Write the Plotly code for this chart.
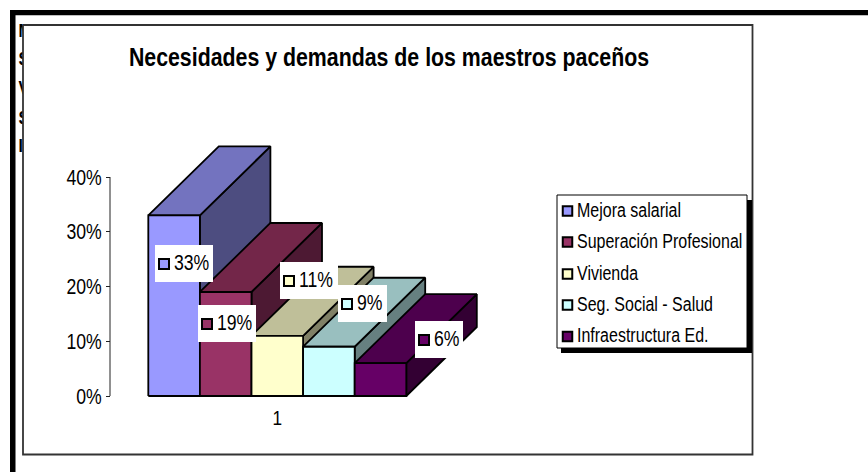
import plotly.graph_objects as go

# ---- data ----
TITLE = "Necesidades y demandas de los maestros paceños"
categories = ["Mejora salarial", "Superación Profesional", "Vivienda", "Seg. Social - Salud", "Infraestructura Ed."]
values = [0.33, 0.19, 0.11, 0.09, 0.06]
value_labels = ["33%", "19%", "11%", "9%", "6%"]
y_ticks = [0, 0.1, 0.2, 0.3, 0.4]
y_tick_labels = ["0%", "10%", "20%", "30%", "40%"]
x_tick_labels = ["1"]
clipped_letters = ["M", "S", "V", "S", "I"]

# ---- styles ----
front_colors = ["#9999FF", "#993366", "#FFFFCC", "#CCFFFF", "#660066"]
top_colors = ["#7373BF", "#732649", "#BFBF99", "#99BFBF", "#4D004D"]
side_colors = ["#4D4D80", "#4D1933", "#808066", "#668080", "#330033"]
FONT = "Liberation Sans, Arial, sans-serif"

# ---- layout geometry (x axis runs in page pixels) ----
W, H = 868, 472
Y0_PX, Y40_PX = 396, 177
PX_PER_UNIT = (Y0_PX - Y40_PX) / 0.4


def py(p):
    """Page pixel row -> value-axis coordinate."""
    return (Y0_PX - p) / PX_PER_UNIT


BAR_X0, BAR_W = 148.3, 51.6
DEPTH_X, DEPTH_Y = 70.5, 69 / PX_PER_UNIT
AXIS_X = 110


def poly(xs, ys, fill, line="black", lw=1.8):
    return go.Scatter(x=xs + xs[:1], y=ys + ys[:1], mode="lines", fill="toself",
                      fillcolor=fill, line=dict(color=line, width=lw),
                      hoverinfo="skip", showlegend=False)


def rect_px(x0, y0, x1, y1, fill, line="black", lw=0):
    return poly([x0, x1, x1, x0], [py(y0), py(y0), py(y1), py(y1)], fill, line, lw)


traces = []

# letters of the text hidden behind the chart box
traces.append(go.Scatter(x=[18.5] * 5, y=[py(p) for p in (32, 60, 89, 119, 147)], mode="text",
                         text=["<b>" + c + "</b>" for c in clipped_letters], textposition="middle right",
                         textfont=dict(family=FONT, size=19, color="black"),
                         hoverinfo="skip", showlegend=False))
# chart box
traces.append(rect_px(23, 25, 752.5, 454.5, "white", "#333333", 1.8))

# value-axis line
traces.append(go.Scatter(x=[AXIS_X, AXIS_X], y=[0, y_ticks[-1]], mode="lines",
                         line=dict(color="#222222", width=1), hoverinfo="skip", showlegend=False))

# 3D bars, left to right
for i, v in enumerate(values):
    xl = BAR_X0 + i * BAR_W
    xr = xl + BAR_W
    traces.append(poly([xr, xr + DEPTH_X, xr + DEPTH_X, xr], [0, DEPTH_Y, v + DEPTH_Y, v], side_colors[i]))
    traces.append(poly([xl, xl + DEPTH_X, xr + DEPTH_X, xr], [v, v + DEPTH_Y, v + DEPTH_Y, v], top_colors[i]))
    traces.append(poly([xl, xr, xr, xl], [0, 0, v, v], front_colors[i]))

# data labels
label_boxes = [(155, 245, 213, 282), (198, 305, 256, 342), (280, 262, 338, 299),
               (338, 285, 387, 322), (415, 321, 463, 358)]
for i, (x0, y0, x1, y1) in enumerate(label_boxes):
    traces.append(rect_px(x0, y0, x1, y1, "white"))
    ym = py((y0 + y1) / 2 + 0.5)
    traces.append(go.Scatter(x=[x0 + 9], y=[ym], mode="markers",
                             marker=dict(symbol="square", size=10, color=front_colors[i],
                                         line=dict(color="black", width=2)),
                             hoverinfo="skip", showlegend=False))
    traces.append(go.Scatter(x=[x0 + 19], y=[py((y0 + y1) / 2 + 1)], mode="text", text=[value_labels[i]],
                             textposition="middle right",
                             textfont=dict(family=FONT, size=21.5, color="black"),
                             hoverinfo="skip", showlegend=False))

# legend
traces.append(rect_px(561, 200, 752, 353, "black"))
traces.append(rect_px(557, 195, 747, 348, "white", "black", 1))
legend_rows = [211, 242, 274, 305, 336.5]
for i, name in enumerate(categories):
    traces.append(go.Scatter(x=[567.5], y=[py(legend_rows[i])], mode="markers",
                             marker=dict(symbol="square", size=9.5, color=front_colors[i],
                                         line=dict(color="black", width=2)),
                             hoverinfo="skip", showlegend=False))
    traces.append(go.Scatter(x=[577], y=[py(legend_rows[i] + 1)], mode="text", text=[name],
                             textposition="middle right",
                             textfont=dict(family=FONT, size=19.5, color="black"),
                             hoverinfo="skip", showlegend=False))

# title
traces.append(go.Scatter(x=[389], y=[py(59)], mode="text", text=["<b>" + TITLE + "</b>"],
                         textposition="middle center",
                         textfont=dict(family=FONT, size=26, color="black"),
                         hoverinfo="skip", showlegend=False))

fig = go.Figure(traces)
fig.update_layout(
    width=W, height=H, margin=dict(l=0, r=0, t=0, b=0),
    paper_bgcolor="white", plot_bgcolor="white", showlegend=False,
    xaxis=dict(range=[0, W], domain=[0, 1], showgrid=False, zeroline=False, showline=False,
               anchor="free", position=(H - Y0_PX) / H,
               tickmode="array", tickvals=[BAR_X0 + 2.5 * BAR_W], ticktext=x_tick_labels,
               ticks="outside", ticklen=3, tickcolor="rgba(0,0,0,0)",
               tickfont=dict(family=FONT, size=21, color="black")),
    yaxis=dict(range=[py(H), py(0)], domain=[0, 1], showgrid=False, zeroline=False, showline=False,
               anchor="free", position=AXIS_X / W,
               tickmode="array", tickvals=y_ticks, ticktext=y_tick_labels,
               ticks="outside", ticklen=4, tickcolor="#222222", tickwidth=1,
               tickfont=dict(family=FONT, size=21.5, color="black")),
    shapes=[
        dict(type="rect", xref="paper", yref="paper", x0=10 / W, x1=1, y0=1 - 15.3 / H, y1=1 - 10 / H,
             fillcolor="black", line=dict(width=0), layer="below"),
        dict(type="rect", xref="paper", yref="paper", x0=10 / W, x1=15.5 / W, y0=0, y1=1 - 10 / H,
             fillcolor="black", line=dict(width=0), layer="below"),
    ],
)
# The reference's type is horizontally condensed; SVG text can be squeezed in place.
SQUEEZE = """
document.body.style.margin = '0';
document.querySelectorAll('.main-svg text').forEach(function (t) {
  var n = t.getComputedTextLength();
  if (n > 0) { t.setAttribute('textLength', n * 0.82); t.setAttribute('lengthAdjust', 'spacingAndGlyphs'); }
});
"""
fig.write_html("out.html", post_script=SQUEEZE, config=dict(displayModeBar=False))
